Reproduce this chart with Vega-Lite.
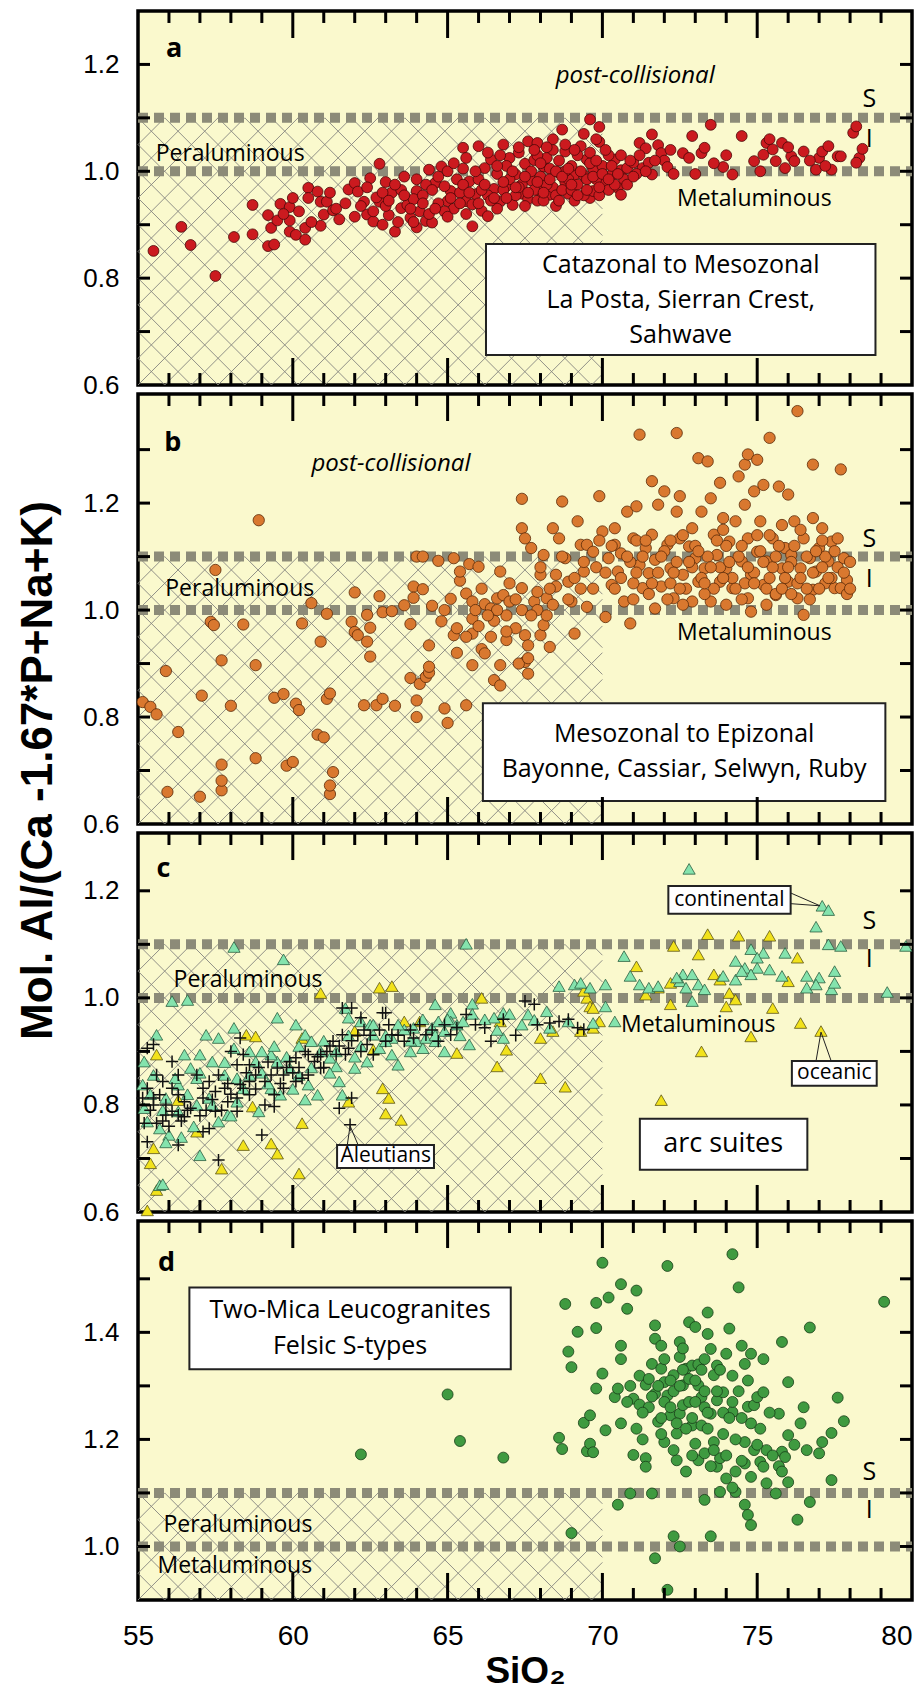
{
"$schema":"https://vega.github.io/schema/vega-lite/v6.json",
"padding":{"left":14,"top":7,"right":0,"bottom":0},
"background":"white",
"spacing":9,
"bounds":"flush",
"config":{
 "view":{"stroke":"black","strokeWidth":3.5,"fill":"#FAF9CD"},
 "axis":{"domain":false,"grid":false,"ticks":false,"labelFont":"Liberation Sans","labelFontSize":26,"labelColor":"black","labelOverlap":false,"labelFlush":false,"titleColor":"black"},
 "text":{"font":"Open Sans","color":"black"}
},
"datasets":{
"xtMinor":[{"v":56},{"v":57},{"v":58},{"v":59},{"v":61},{"v":62},{"v":63},{"v":64},{"v":66},{"v":67},{"v":68},{"v":69},{"v":71},{"v":72},{"v":73},{"v":74},{"v":76},{"v":77},{"v":78},{"v":79}],
"xtMajor":[{"v":60},{"v":65},{"v":70},{"v":75}],
"yt1":[{"v":0.7},{"v":0.8},{"v":0.9},{"v":1.0},{"v":1.1},{"v":1.2}],
"yt2":[{"v":0.7},{"v":0.8},{"v":0.9},{"v":1.0},{"v":1.1},{"v":1.2},{"v":1.3}],
"yt4":[{"v":1.0},{"v":1.1},{"v":1.2},{"v":1.3},{"v":1.4},{"v":1.5}],
"hatch1":[
{"x":55,"y":1.05,"x2":55.862,"y2":1.1},{"x":55,"y":1.0,"x2":56.724,"y2":1.1},{"x":55,"y":0.95,"x2":57.585,"y2":1.1},{"x":55,"y":0.9,"x2":58.447,"y2":1.1},{"x":55,"y":0.85,"x2":59.309,"y2":1.1},{"x":55,"y":0.8,"x2":60.171,"y2":1.1},{"x":55,"y":0.75,"x2":61.033,"y2":1.1},{"x":55,"y":0.7,"x2":61.894,"y2":1.1},{"x":55,"y":0.65,"x2":62.756,"y2":1.1},{"x":55,"y":0.6,"x2":63.618,"y2":1.1},{"x":55.862,"y":0.6,"x2":64.48,"y2":1.1},{"x":56.724,"y":0.6,"x2":65.342,"y2":1.1},{"x":57.585,"y":0.6,"x2":66.203,"y2":1.1},{"x":58.447,"y":0.6,"x2":67.065,"y2":1.1},{"x":59.309,"y":0.6,"x2":67.927,"y2":1.1},{"x":60.171,"y":0.6,"x2":68.789,"y2":1.1},{"x":61.033,"y":0.6,"x2":69.65,"y2":1.1},{"x":61.894,"y":0.6,"x2":70,"y2":1.0703},{"x":62.756,"y":0.6,"x2":70,"y2":1.0203},{"x":63.618,"y":0.6,"x2":70,"y2":0.9703},{"x":64.48,"y":0.6,"x2":70,"y2":0.9203},{"x":65.342,"y":0.6,"x2":70,"y2":0.8703},{"x":66.203,"y":0.6,"x2":70,"y2":0.8203},{"x":67.065,"y":0.6,"x2":70,"y2":0.7703},{"x":67.927,"y":0.6,"x2":70,"y2":0.7203},{"x":68.789,"y":0.6,"x2":70,"y2":0.6703},{"x":69.65,"y":0.6,"x2":70,"y2":0.6203},
{"x":55,"y":0.65,"x2":55.862,"y2":0.6},{"x":55,"y":0.7,"x2":56.724,"y2":0.6},{"x":55,"y":0.75,"x2":57.585,"y2":0.6},{"x":55,"y":0.8,"x2":58.447,"y2":0.6},{"x":55,"y":0.85,"x2":59.309,"y2":0.6},{"x":55,"y":0.9,"x2":60.171,"y2":0.6},{"x":55,"y":0.95,"x2":61.033,"y2":0.6},{"x":55,"y":1.0,"x2":61.894,"y2":0.6},{"x":55,"y":1.05,"x2":62.756,"y2":0.6},{"x":55,"y":1.1,"x2":63.618,"y2":0.6},{"x":55.862,"y":1.1,"x2":64.48,"y2":0.6},{"x":56.724,"y":1.1,"x2":65.342,"y2":0.6},{"x":57.585,"y":1.1,"x2":66.203,"y2":0.6},{"x":58.447,"y":1.1,"x2":67.065,"y2":0.6},{"x":59.309,"y":1.1,"x2":67.927,"y2":0.6},{"x":60.171,"y":1.1,"x2":68.789,"y2":0.6},{"x":61.033,"y":1.1,"x2":69.65,"y2":0.6},{"x":61.894,"y":1.1,"x2":70,"y2":0.6297},{"x":62.756,"y":1.1,"x2":70,"y2":0.6797},{"x":63.618,"y":1.1,"x2":70,"y2":0.7297},{"x":64.48,"y":1.1,"x2":70,"y2":0.7797},{"x":65.342,"y":1.1,"x2":70,"y2":0.8297},{"x":66.203,"y":1.1,"x2":70,"y2":0.8797},{"x":67.065,"y":1.1,"x2":70,"y2":0.9297},{"x":67.927,"y":1.1,"x2":70,"y2":0.9797},{"x":68.789,"y":1.1,"x2":70,"y2":1.0297},{"x":69.65,"y":1.1,"x2":70,"y2":1.0797}],
"hatch2":[
{"x":55,"y":1.05,"x2":55.862,"y2":1.1},{"x":55,"y":1.0,"x2":56.724,"y2":1.1},{"x":55,"y":0.95,"x2":57.585,"y2":1.1},{"x":55,"y":0.9,"x2":58.447,"y2":1.1},{"x":55.862,"y":0.9,"x2":59.309,"y2":1.1},{"x":56.724,"y":0.9,"x2":60.171,"y2":1.1},{"x":57.585,"y":0.9,"x2":61.033,"y2":1.1},{"x":58.447,"y":0.9,"x2":61.894,"y2":1.1},{"x":59.309,"y":0.9,"x2":62.756,"y2":1.1},{"x":60.171,"y":0.9,"x2":63.618,"y2":1.1},{"x":61.033,"y":0.9,"x2":64.48,"y2":1.1},{"x":61.894,"y":0.9,"x2":65.342,"y2":1.1},{"x":62.756,"y":0.9,"x2":66.203,"y2":1.1},{"x":63.618,"y":0.9,"x2":67.065,"y2":1.1},{"x":64.48,"y":0.9,"x2":67.927,"y2":1.1},{"x":65.342,"y":0.9,"x2":68.789,"y2":1.1},{"x":66.203,"y":0.9,"x2":69.65,"y2":1.1},{"x":67.065,"y":0.9,"x2":70,"y2":1.0703},{"x":67.927,"y":0.9,"x2":70,"y2":1.0203},{"x":68.789,"y":0.9,"x2":70,"y2":0.9703},{"x":69.65,"y":0.9,"x2":70,"y2":0.9203},
{"x":55,"y":0.95,"x2":55.862,"y2":0.9},{"x":55,"y":1.0,"x2":56.724,"y2":0.9},{"x":55,"y":1.05,"x2":57.585,"y2":0.9},{"x":55,"y":1.1,"x2":58.447,"y2":0.9},{"x":55.862,"y":1.1,"x2":59.309,"y2":0.9},{"x":56.724,"y":1.1,"x2":60.171,"y2":0.9},{"x":57.585,"y":1.1,"x2":61.033,"y2":0.9},{"x":58.447,"y":1.1,"x2":61.894,"y2":0.9},{"x":59.309,"y":1.1,"x2":62.756,"y2":0.9},{"x":60.171,"y":1.1,"x2":63.618,"y2":0.9},{"x":61.033,"y":1.1,"x2":64.48,"y2":0.9},{"x":61.894,"y":1.1,"x2":65.342,"y2":0.9},{"x":62.756,"y":1.1,"x2":66.203,"y2":0.9},{"x":63.618,"y":1.1,"x2":67.065,"y2":0.9},{"x":64.48,"y":1.1,"x2":67.927,"y2":0.9},{"x":65.342,"y":1.1,"x2":68.789,"y2":0.9},{"x":66.203,"y":1.1,"x2":69.65,"y2":0.9},{"x":67.065,"y":1.1,"x2":70,"y2":0.9297},{"x":67.927,"y":1.1,"x2":70,"y2":0.9797},{"x":68.789,"y":1.1,"x2":70,"y2":1.0297},{"x":69.65,"y":1.1,"x2":70,"y2":1.0797}],
"ptsA":[
{"x":55.5,"y":0.851},{"x":56.4,"y":0.896},{"x":56.7,"y":0.862},{"x":57.5,"y":0.804},{"x":58.1,"y":0.877},{"x":58.7,"y":0.937},{"x":58.7,"y":0.882},{"x":59.2,"y":0.918},{"x":59.3,"y":0.894},{"x":59.2,"y":0.86},{"x":59.4,"y":0.863},{"x":59.5,"y":0.908},{"x":59.6,"y":0.939},{"x":59.9,"y":0.908},{"x":59.9,"y":0.933},{"x":59.9,"y":0.887},{"x":60.1,"y":0.881},{"x":60.4,"y":0.872},{"x":60.4,"y":0.894},{"x":60.5,"y":0.969},{"x":60.5,"y":0.95},{"x":60.8,"y":0.962},{"x":60.9,"y":0.943},{"x":61.0,"y":0.919},{"x":60.9,"y":0.898},{"x":61.1,"y":0.943},{"x":61.3,"y":0.927},{"x":61.4,"y":0.93},
{"x":61.8,"y":0.966},{"x":62.0,"y":0.978},{"x":62.3,"y":0.943},{"x":62.4,"y":0.919},{"x":62.5,"y":0.987},{"x":62.6,"y":0.906},{"x":62.8,"y":1.014},{"x":62.8,"y":0.943},{"x":63.0,"y":0.98},{"x":63.1,"y":0.918},{"x":63.3,"y":0.887},{"x":63.5,"y":0.931},{"x":63.6,"y":0.99},{"x":63.7,"y":0.937},{"x":63.8,"y":0.913},{"x":64.0,"y":0.963},{"x":64.1,"y":0.925},{"x":64.3,"y":0.907},{"x":64.5,"y":0.904},{"x":64.4,"y":1.003},{"x":64.6,"y":0.978},{"x":64.8,"y":1.009},{"x":65.0,"y":0.944},{"x":65.1,"y":0.963},{"x":65.5,"y":1.044},{"x":65.6,"y":1.025},{"x":65.6,"y":0.944},{"x":65.7,"y":0.981},{"x":65.8,"y":0.897},{"x":65.9,"y":0.957},{"x":66.0,"y":1.047},{"x":66.1,"y":0.926},{"x":66.2,"y":1.006},{"x":66.3,"y":0.916},{"x":66.4,"y":1.022},{"x":66.5,"y":0.967},{"x":66.6,"y":0.995},{"x":66.7,"y":0.944},{"x":66.8,"y":1.05},{"x":66.9,"y":0.972},{"x":67.0,"y":1.025},{"x":67.1,"y":0.937},{"x":67.2,"y":0.994},{"x":67.3,"y":1.035},{"x":67.4,"y":0.958},{"x":67.5,"y":1.014},{"x":67.6,"y":1.056},{"x":67.6,"y":0.948},{"x":67.7,"y":0.983},{"x":67.8,"y":1.021},{"x":67.9,"y":1.053},{"x":67.9,"y":0.945},{"x":68.0,"y":0.963},{"x":68.1,"y":1.009},{"x":68.2,"y":1.025},{"x":68.3,"y":0.956},{"x":68.4,"y":1.04},{"x":68.5,"y":0.935},{"x":68.6,"y":0.997},{"x":68.7,"y":1.078},{"x":68.8,"y":1.037},{"x":68.8,"y":0.98},{"x":68.9,"y":0.958},{"x":69.1,"y":0.993},{"x":69.3,"y":1.047},{"x":69.4,"y":0.992},{"x":69.5,"y":1.022},{"x":69.6,"y":0.95},{"x":69.6,"y":1.097},{"x":69.7,"y":0.963},{"x":69.9,"y":1.083},{"x":69.9,"y":1.055},{"x":70.0,"y":0.969},{"x":70.1,"y":0.981},{"x":70.3,"y":0.993},{"x":70.4,"y":1.022},{"x":70.5,"y":0.969},{"x":70.6,"y":0.956},{"x":70.6,"y":1.002},{"x":70.8,"y":1.006},{"x":71.0,"y":1.016},{"x":71.2,"y":1.053},{"x":71.3,"y":1.006},{"x":71.4,"y":1.043},{"x":71.5,"y":1.016},{"x":71.6,"y":1.069},{"x":71.6,"y":0.994},{"x":71.8,"y":1.049},{"x":71.9,"y":1.034},{"x":72.0,"y":1.02},{"x":72.1,"y":1.008},{"x":72.3,"y":0.995},{"x":72.6,"y":1.034},{"x":72.8,"y":1.025},{"x":72.9,"y":1.066},{"x":73.0,"y":0.995},{"x":73.2,"y":1.034},{"x":73.3,"y":1.044},{"x":73.5,"y":1.087},{"x":73.9,"y":1.008},{"x":74.2,"y":0.994},{"x":74.5,"y":1.066},{"x":74.9,"y":1.019},{"x":75.2,"y":1.031},{"x":75.3,"y":1.053},{"x":75.4,"y":1.06},{"x":75.5,"y":1.041},{"x":75.6,"y":1.019},{"x":75.8,"y":1.053},{"x":75.9,"y":1.006},{"x":76.1,"y":1.028},{"x":76.2,"y":1.019},{"x":76.5,"y":1.037},{"x":76.9,"y":1.003},{"x":77.0,"y":1.025},{"x":77.1,"y":1.037},{"x":77.3,"y":1.047},{"x":77.4,"y":1.003},{"x":77.6,"y":1.028},{"x":77.7,"y":1.028},{"x":78.1,"y":1.072},{"x":78.2,"y":1.084},{"x":78.3,"y":1.025},{"x":78.2,"y":1.016},{"x":78.4,"y":1.042},
{"x":62.1,"y":0.962},{"x":62.7,"y":0.951},{"x":63.2,"y":0.96},{"x":63.9,"y":0.948},{"x":64.2,"y":0.955},{"x":64.7,"y":0.94},{"x":64.9,"y":0.972},{"x":65.2,"y":0.93},{"x":65.3,"y":0.985},{"x":65.4,"y":0.96},{"x":65.8,"y":0.938},{"x":66.0,"y":0.985},{"x":66.3,"y":0.955},{"x":66.6,"y":0.93},{"x":66.8,"y":0.965},{"x":67.0,"y":0.985},{"x":67.2,"y":0.955},{"x":67.4,"y":0.975},{"x":67.5,"y":0.935},{"x":67.7,"y":1.0},{"x":67.8,"y":0.965},{"x":68.0,"y":0.99},{"x":68.1,"y":0.945},{"x":68.3,"y":1.005},{"x":68.4,"y":0.97},{"x":68.5,"y":0.955},{"x":68.6,"y":1.02},{"x":68.7,"y":0.965},{"x":68.9,"y":0.985},{"x":69.0,"y":1.01},{"x":69.0,"y":0.965},{"x":69.2,"y":0.975},{"x":69.2,"y":1.03},{"x":69.4,"y":0.955},{"x":69.5,"y":0.985},{"x":69.7,"y":1.005},{"x":69.8,"y":0.985},{"x":69.9,"y":0.955},{"x":70.0,"y":1.01},{"x":70.2,"y":0.965},{"x":70.2,"y":1.03},{"x":70.4,"y":0.975},{"x":66.4,"y":0.945},{"x":65.0,"y":1.0},{"x":64.3,"y":0.975},{"x":63.5,"y":0.965},{"x":63.0,"y":0.935},{"x":62.9,"y":0.9},{"x":64.0,"y":0.895},{"x":65.5,"y":1.005},{"x":66.9,"y":1.01},{"x":67.9,"y":1.03},{"x":68.2,"y":0.975},{"x":69.1,"y":0.945},{"x":66.1,"y":0.965},{"x":67.3,"y":0.97},{"x":68.8,"y":1.0},{"x":69.6,"y":1.015},{"x":70.7,"y":0.985},{"x":71.1,"y":0.995},
{"x":62.2,"y":0.935},{"x":62.4,"y":0.97},{"x":62.6,"y":0.925},{"x":62.9,"y":0.96},{"x":63.1,"y":0.945},{"x":63.3,"y":0.975},{"x":63.4,"y":0.905},{"x":63.6,"y":0.955},{"x":63.8,"y":0.93},{"x":64.0,"y":0.985},{"x":64.2,"y":0.94},{"x":64.4,"y":0.92},{"x":64.5,"y":0.965},{"x":64.7,"y":0.99},{"x":64.9,"y":0.925},{"x":65.1,"y":0.95},{"x":65.2,"y":1.015},{"x":65.4,"y":0.94},{"x":65.5,"y":0.975},{"x":65.7,"y":0.96},{"x":65.9,"y":1.0},{"x":66.0,"y":0.94},{"x":66.2,"y":0.975},{"x":66.3,"y":1.035},{"x":66.5,"y":0.95},{"x":66.6,"y":1.01},{"x":66.8,"y":0.98},{"x":66.9,"y":0.95},{"x":67.1,"y":1.0},{"x":67.2,"y":0.97},{"x":67.3,"y":1.045},{"x":67.5,"y":0.99},{"x":67.6,"y":0.96},{"x":67.8,"y":1.04},{"x":67.9,"y":0.98},{"x":68.0,"y":1.015},{"x":68.1,"y":0.96},{"x":68.3,"y":0.985},{"x":68.4,"y":1.06},{"x":68.5,"y":1.0},{"x":68.6,"y":0.945},{"x":68.7,"y":0.99},{"x":68.8,"y":1.05},{"x":68.9,"y":1.005},{"x":69.0,"y":0.975},{"x":69.1,"y":1.04},{"x":69.2,"y":0.955},{"x":69.3,"y":1.0},{"x":69.4,"y":1.07},{"x":69.5,"y":0.965},{"x":69.6,"y":1.035},{"x":69.7,"y":0.99},{"x":69.8,"y":1.02},{"x":69.9,"y":0.97},{"x":70.0,"y":0.995},{"x":70.1,"y":1.04},{"x":70.2,"y":0.985},{"x":70.3,"y":1.01},{"x":70.5,"y":0.995},{"x":70.6,"y":1.03},{"x":70.8,"y":0.975},{"x":70.9,"y":1.02},{"x":71.0,"y":0.99},{"x":71.2,"y":1.03},{"x":71.4,"y":1.0},{"x":71.7,"y":1.02},{"x":60.2,"y":0.925},{"x":60.6,"y":0.905},{"x":61.2,"y":0.96},{"x":61.5,"y":0.91},{"x":61.7,"y":0.94},{"x":62.0,"y":0.915},{"x":59.7,"y":0.92},{"x":60.0,"y":0.95},{"x":63.9,"y":0.905},{"x":64.6,"y":0.93},{"x":65.0,"y":0.915},{"x":65.6,"y":0.92},{"x":66.7,"y":1.03},{"x":68.2,"y":1.045},{"x":69.8,"y":1.06},{"x":72.2,"y":1.04},{"x":73.6,"y":1.015},{"x":74.0,"y":1.03},{"x":76.0,"y":1.045},{"x":76.7,"y":1.02},{"x":77.2,"y":1.01},{"x":75.1,"y":1.0}],
"ptsB":[
{"x":55.15,"y":0.828},{"x":55.4,"y":0.819},{"x":55.6,"y":0.805},{"x":55.9,"y":0.886},{"x":55.95,"y":0.66},{"x":56.3,"y":0.772},{"x":57.0,"y":0.651},{"x":57.06,"y":0.84},{"x":57.35,"y":0.978},{"x":57.45,"y":0.972},{"x":57.5,"y":1.075},{"x":57.7,"y":0.906},{"x":57.7,"y":0.663},{"x":57.7,"y":0.681},{"x":57.7,"y":0.711},{"x":58.0,"y":0.821},{"x":58.4,"y":0.973},{"x":58.8,"y":0.723},{"x":58.8,"y":0.897},{"x":58.9,"y":1.168},{"x":59.4,"y":0.836},{"x":59.7,"y":0.843},{"x":59.8,"y":0.709},{"x":60.0,"y":0.716},{"x":60.1,"y":0.825},{"x":60.2,"y":0.813},{"x":60.3,"y":0.975},{"x":60.6,"y":1.013},{"x":60.8,"y":0.767},{"x":61.0,"y":0.762},{"x":60.9,"y":0.941},{"x":61.1,"y":0.993},{"x":61.1,"y":0.834},{"x":61.2,"y":0.844},{"x":61.2,"y":0.656},{"x":61.2,"y":0.672},{"x":61.3,"y":0.697},{"x":61.9,"y":0.978},{"x":62.0,"y":0.959},{"x":62.0,"y":1.033},{"x":62.1,"y":0.953},{"x":62.3,"y":0.822},{"x":62.4,"y":0.941},{"x":62.4,"y":0.991},{"x":62.5,"y":0.967},{"x":62.5,"y":0.913},{"x":62.7,"y":0.822},{"x":62.8,"y":1.026},{"x":62.9,"y":0.996},{"x":62.9,"y":0.834},{"x":63.2,"y":0.998},{"x":63.3,"y":0.821},{"x":63.6,"y":1.009},{"x":63.8,"y":0.974},{"x":63.8,"y":0.873},{"x":63.9,"y":1.044},{"x":63.9,"y":1.023},{"x":64.0,"y":0.831},{"x":64.0,"y":0.8},{"x":64.1,"y":0.862},{"x":64.0,"y":1.1},{"x":64.2,"y":1.039},{"x":64.2,"y":1.1},{"x":64.3,"y":0.875},{"x":64.4,"y":0.883},{"x":64.4,"y":0.894},{"x":64.4,"y":0.934},{"x":64.5,"y":1.008},{"x":64.7,"y":1.092},{"x":64.8,"y":0.979},{"x":64.9,"y":1.0},{"x":64.9,"y":0.816},{"x":65.0,"y":0.789},{"x":65.1,"y":1.021},{"x":65.2,"y":1.097},{"x":65.2,"y":0.953},{"x":65.3,"y":0.966},{"x":65.4,"y":1.055},{"x":65.4,"y":1.072},{"x":65.6,"y":1.031},{"x":65.6,"y":0.822},{"x":65.7,"y":1.086},{"x":65.8,"y":1.016},{"x":65.8,"y":0.984},{"x":65.8,"y":0.956},{"x":65.8,"y":0.897},{"x":66.0,"y":1.081},{"x":66.1,"y":0.927},{"x":66.2,"y":0.919},{"x":66.2,"y":1.011},{"x":66.4,"y":1.003},{"x":66.5,"y":0.869},{"x":66.6,"y":1.022},{"x":66.7,"y":0.897},{"x":66.7,"y":0.859},{"x":66.7,"y":1.072},{"x":66.8,"y":1.028},{"x":66.9,"y":0.944},{"x":67.0,"y":1.016},{"x":67.2,"y":0.966},{"x":67.4,"y":1.208},{"x":67.4,"y":1.041},{"x":67.4,"y":1.153},{"x":67.5,"y":1.134},{"x":67.5,"y":0.953},{"x":67.5,"y":0.903},{"x":67.6,"y":0.881},{"x":67.6,"y":0.934},{"x":67.7,"y":1.116},{"x":67.8,"y":1.016},{"x":67.9,"y":1.034},{"x":68.0,"y":0.953},{"x":68.0,"y":1.066},{"x":68.1,"y":1.103},{"x":68.1,"y":0.972},{"x":68.2,"y":1.022},{"x":68.3,"y":0.931},{"x":68.4,"y":1.153},{"x":68.5,"y":1.044},{"x":68.5,"y":1.066},{"x":68.6,"y":1.134},{"x":68.7,"y":1.203},{"x":68.8,"y":1.097},{"x":68.9,"y":1.053},{"x":69.0,"y":1.016},{"x":69.1,"y":0.956},{"x":69.2,"y":1.166},{"x":69.3,"y":1.122},{"x":69.4,"y":1.072},{"x":69.5,"y":1.006},{"x":69.5,"y":1.122},{"x":69.7,"y":1.109},{"x":69.9,"y":1.213},{"x":70.0,"y":1.147},{"x":70.1,"y":0.987},{"x":70.2,"y":1.097},{"x":70.3,"y":1.047},{"x":70.4,"y":1.153},{"x":70.4,"y":1.122},{"x":70.5,"y":1.072},{"x":70.6,"y":1.106},{"x":70.7,"y":1.016},{"x":70.8,"y":1.184},{"x":70.9,"y":0.975},{"x":71.0,"y":1.134},{"x":71.1,"y":1.194},{"x":71.2,"y":1.084},{"x":71.2,"y":1.328},{"x":71.3,"y":1.041},{"x":71.4,"y":1.116},{"x":71.5,"y":1.069},{"x":71.6,"y":1.241},{"x":71.6,"y":1.141},{"x":71.7,"y":1.003},{"x":71.7,"y":1.094},{"x":71.8,"y":1.197},{"x":71.9,"y":1.044},{"x":72.0,"y":1.222},{"x":72.1,"y":1.122},{"x":72.2,"y":1.078},{"x":72.3,"y":1.022},{"x":72.4,"y":1.184},{"x":72.4,"y":1.331},{"x":72.5,"y":1.134},{"x":72.5,"y":1.213},{"x":72.6,"y":1.066},{"x":72.8,"y":1.119},{"x":72.9,"y":1.016},{"x":72.9,"y":1.153},{"x":73.0,"y":1.097},{"x":73.1,"y":1.053},{"x":73.1,"y":1.284},{"x":73.2,"y":1.184},{"x":73.3,"y":1.078},{"x":73.4,"y":1.278},{"x":73.5,"y":1.209},{"x":73.5,"y":1.016},{"x":73.6,"y":1.141},{"x":73.7,"y":1.103},{"x":73.8,"y":1.238},{"x":73.8,"y":1.053},{"x":73.9,"y":1.172},{"x":74.0,"y":1.078},{"x":74.1,"y":1.128},{"x":74.2,"y":1.041},{"x":74.3,"y":1.166},{"x":74.4,"y":1.25},{"x":74.5,"y":1.091},{"x":74.6,"y":1.272},{"x":74.6,"y":1.197},{"x":74.7,"y":1.022},{"x":74.7,"y":1.291},{"x":74.7,"y":1.134},{"x":74.8,"y":0.997},{"x":74.8,"y":1.066},{"x":74.9,"y":1.222},{"x":75.0,"y":1.281},{"x":75.0,"y":1.109},{"x":75.1,"y":1.166},{"x":75.2,"y":1.234},{"x":75.2,"y":1.047},{"x":75.3,"y":1.091},{"x":75.4,"y":1.322},{"x":75.5,"y":1.134},{"x":75.6,"y":1.028},{"x":75.7,"y":1.231},{"x":75.8,"y":1.078},{"x":75.8,"y":1.159},{"x":75.9,"y":1.116},{"x":76.0,"y":1.216},{"x":76.0,"y":1.053},{"x":76.1,"y":1.103},{"x":76.2,"y":1.166},{"x":76.3,"y":1.022},{"x":76.4,"y":1.078},{"x":76.5,"y":1.134},{"x":76.5,"y":0.991},{"x":76.7,"y":1.097},{"x":76.8,"y":1.172},{"x":76.8,"y":1.272},{"x":76.8,"y":1.038},{"x":76.9,"y":1.072},{"x":77.0,"y":1.116},{"x":77.1,"y":1.153},{"x":77.2,"y":1.05},{"x":77.3,"y":1.091},{"x":77.4,"y":1.128},{"x":77.5,"y":1.041},{"x":77.6,"y":1.134},{"x":77.7,"y":1.263},{"x":77.8,"y":1.097},{"x":77.9,"y":1.056},{"x":77.7,"y":1.041},{"x":76.3,"y":1.372},
{"x":70.6,"y":1.06},{"x":70.9,"y":1.09},{"x":71.0,"y":1.05},{"x":71.3,"y":1.1},{"x":71.5,"y":1.03},{"x":71.8,"y":1.07},{"x":72.0,"y":1.11},{"x":72.2,"y":1.05},{"x":72.4,"y":1.09},{"x":72.7,"y":1.04},{"x":72.9,"y":1.08},{"x":73.0,"y":1.12},{"x":73.2,"y":1.06},{"x":73.4,"y":1.1},{"x":73.6,"y":1.04},{"x":73.8,"y":1.08},{"x":74.0,"y":1.12},{"x":74.2,"y":1.06},{"x":74.4,"y":1.1},{"x":74.6,"y":1.05},{"x":74.9,"y":1.07},{"x":75.1,"y":1.11},{"x":75.3,"y":1.04},{"x":75.5,"y":1.08},{"x":75.7,"y":1.12},{"x":75.9,"y":1.06},{"x":76.1,"y":1.09},{"x":76.3,"y":1.05},{"x":76.6,"y":1.1},{"x":76.8,"y":1.07},{"x":77.0,"y":1.04},{"x":77.2,"y":1.1},{"x":77.4,"y":1.06},{"x":77.6,"y":1.08},{"x":77.9,"y":1.03},{"x":72.1,"y":1.02},{"x":73.3,"y":1.03},{"x":74.5,"y":1.02},{"x":75.6,"y":1.03},{"x":76.7,"y":1.02},{"x":71.1,"y":1.13},{"x":72.6,"y":1.14},{"x":73.9,"y":1.15},{"x":75.4,"y":1.14},{"x":76.4,"y":1.15},{"x":77.1,"y":1.13},{"x":70.3,"y":1.12},{"x":69.8,"y":1.08},{"x":69.3,"y":1.04},{"x":68.9,"y":1.02},{"x":68.4,"y":1.01},{"x":67.9,"y":1.0},{"x":67.4,"y":1.0},{"x":66.9,"y":0.99},{"x":66.5,"y":0.98},{"x":66.0,"y":0.97},{"x":65.6,"y":0.95},{"x":65.3,"y":0.92},
{"x":70.4,"y":1.04},{"x":70.8,"y":1.1},{"x":71.1,"y":1.07},{"x":71.4,"y":1.13},{"x":71.6,"y":1.05},{"x":71.9,"y":1.1},{"x":72.2,"y":1.13},{"x":72.3,"y":1.07},{"x":72.5,"y":1.04},{"x":72.8,"y":1.09},{"x":73.1,"y":1.11},{"x":73.3,"y":1.05},{"x":73.5,"y":1.08},{"x":73.7,"y":1.13},{"x":73.9,"y":1.06},{"x":74.1,"y":1.09},{"x":74.3,"y":1.04},{"x":74.5,"y":1.12},{"x":74.7,"y":1.08},{"x":74.9,"y":1.05},{"x":75.0,"y":1.14},{"x":75.2,"y":1.09},{"x":75.4,"y":1.06},{"x":75.6,"y":1.1},{"x":75.8,"y":1.04},{"x":76.0,"y":1.08},{"x":76.2,"y":1.12},{"x":76.4,"y":1.06},{"x":76.6,"y":1.04},{"x":76.9,"y":1.11},{"x":77.1,"y":1.08},{"x":77.3,"y":1.06},{"x":77.5,"y":1.11},{"x":77.8,"y":1.07},{"x":78.0,"y":1.04},{"x":78.0,"y":1.09},{"x":71.0,"y":1.02},{"x":72.6,"y":1.01},{"x":74.0,"y":1.01},{"x":75.3,"y":1.01},{"x":76.1,"y":1.03},{"x":68.0,"y":1.08},{"x":68.3,"y":1.04},{"x":68.7,"y":1.1},{"x":69.1,"y":1.06},{"x":69.4,"y":1.09},{"x":69.7,"y":1.04},{"x":69.9,"y":1.13},{"x":70.1,"y":1.07},{"x":67.2,"y":1.02},{"x":67.0,"y":1.05},{"x":66.6,"y":1.0},{"x":66.3,"y":0.99},{"x":66.1,"y":1.04},{"x":65.9,"y":1.0},{"x":67.7,"y":0.99},{"x":68.2,"y":0.99},{"x":67.3,"y":0.9},{"x":67.6,"y":0.91},{"x":66.4,"y":0.95},{"x":66.9,"y":0.96}],
"cont":[
{"x":72.8,"y":1.241},{"x":77.1,"y":1.172},{"x":77.3,"y":1.164},{"x":76.9,"y":1.133},{"x":58.1,"y":1.095},{"x":65.6,"y":1.101},{"x":79.8,"y":1.097},{"x":77.3,"y":1.1},{"x":77.7,"y":1.097},{"x":59.7,"y":1.072},{"x":70.7,"y":1.078},{"x":70.9,"y":1.041},{"x":74.8,"y":1.091},{"x":74.3,"y":1.069},{"x":75.2,"y":1.084},{"x":75.0,"y":1.075},{"x":75.9,"y":1.084},{"x":74.6,"y":1.056},{"x":75.0,"y":1.056},{"x":75.4,"y":1.053},{"x":75.8,"y":1.041},{"x":74.8,"y":1.044},{"x":72.6,"y":1.044},{"x":72.5,"y":1.031},{"x":72.7,"y":1.019},{"x":72.9,"y":1.044},{"x":73.1,"y":1.025},{"x":73.3,"y":1.016},{"x":72.4,"y":1.038},{"x":73.9,"y":1.041},{"x":74.3,"y":1.034},{"x":74.5,"y":1.05},{"x":76.6,"y":1.041},{"x":77.0,"y":1.038},{"x":76.6,"y":1.019},{"x":77.4,"y":1.016},{"x":77.5,"y":1.05},{"x":77.5,"y":1.028},{"x":76.9,"y":1.025},{"x":79.2,"y":1.011},{"x":71.2,"y":1.025},{"x":71.5,"y":1.019},{"x":71.8,"y":1.022},{"x":72.9,"y":0.994},{"x":69.1,"y":1.025},{"x":69.3,"y":1.028},{"x":69.6,"y":1.019},{"x":70.1,"y":1.025},{"x":70.1,"y":0.984},{"x":68.6,"y":1.022},{"x":56.1,"y":0.994},{"x":56.6,"y":0.996},{"x":65.8,"y":0.989},{"x":64.6,"y":0.988},{"x":66.8,"y":0.972},{"x":66.8,"y":0.925},{"x":66.5,"y":0.963},{"x":67.6,"y":0.969},{"x":67.8,"y":0.959},{"x":68.2,"y":0.975},{"x":68.3,"y":0.944},{"x":68.9,"y":0.956},{"x":70.4,"y":0.956},{"x":69.7,"y":0.953},{"x":65.1,"y":0.972},{"x":65.3,"y":0.95},{"x":64.9,"y":0.938},{"x":64.5,"y":0.944},{"x":64.7,"y":0.956},{"x":63.9,"y":0.944},{"x":63.6,"y":0.941},{"x":63.2,"y":0.925},{"x":62.8,"y":0.906},{"x":62.4,"y":0.881},{"x":62.0,"y":0.869},{"x":61.7,"y":0.981},{"x":61.8,"y":0.963},{"x":62.2,"y":0.956},{"x":62.5,"y":0.95},{"x":62.6,"y":0.931},{"x":63.0,"y":0.919},{"x":63.2,"y":0.894},{"x":63.4,"y":0.875},{"x":63.8,"y":0.9},{"x":64.0,"y":0.919},{"x":64.2,"y":0.906},{"x":64.3,"y":0.925},{"x":64.6,"y":0.919},{"x":64.9,"y":0.9},{"x":65.1,"y":0.956},{"x":65.5,"y":0.956},{"x":65.7,"y":0.913},{"x":59.5,"y":0.963},{"x":60.1,"y":0.95},{"x":60.4,"y":0.931},{"x":60.6,"y":0.919},{"x":60.9,"y":0.9},{"x":61.2,"y":0.888},{"x":61.4,"y":0.872},{"x":61.5,"y":0.844},{"x":61.6,"y":0.819},{"x":60.8,"y":0.819},{"x":60.5,"y":0.838},{"x":60.2,"y":0.856},{"x":59.9,"y":0.869},{"x":59.5,"y":0.881},{"x":59.3,"y":0.894},{"x":59.0,"y":0.9},{"x":58.8,"y":0.881},{"x":58.6,"y":0.856},{"x":58.4,"y":0.831},{"x":58.2,"y":0.806},{"x":58.1,"y":0.944},{"x":58.1,"y":0.906},{"x":57.6,"y":0.925},{"x":57.2,"y":0.931},{"x":57.0,"y":0.894},{"x":56.7,"y":0.869},{"x":56.3,"y":0.838},{"x":55.9,"y":0.813},{"x":55.6,"y":0.931},{"x":55.5,"y":0.856},{"x":55.2,"y":0.881},{"x":55.15,"y":0.838},{"x":55.2,"y":0.794},{"x":55.3,"y":0.769},{"x":55.7,"y":0.756},{"x":56.0,"y":0.744},{"x":56.3,"y":0.788},{"x":56.9,"y":0.8},{"x":57.3,"y":0.813},{"x":57.6,"y":0.769},{"x":57.9,"y":0.781},{"x":58.9,"y":0.788},{"x":59.6,"y":0.819},{"x":59.3,"y":0.831},{"x":57.0,"y":0.706},{"x":55.7,"y":0.65},{"x":55.8,"y":0.652},{"x":56.9,"y":0.85},{"x":56.5,"y":0.894},{"x":57.4,"y":0.881},{"x":57.8,"y":0.856},
{"x":55.4,"y":0.82},{"x":55.8,"y":0.79},{"x":56.2,"y":0.85},{"x":56.6,"y":0.82},{"x":57.0,"y":0.86},{"x":57.4,"y":0.8},{"x":57.8,"y":0.88},{"x":58.2,"y":0.85},{"x":58.6,"y":0.9},{"x":59.0,"y":0.86},{"x":59.4,"y":0.91},{"x":59.8,"y":0.89},{"x":60.2,"y":0.91},{"x":60.6,"y":0.87},{"x":61.0,"y":0.92},{"x":61.4,"y":0.9},{"x":61.8,"y":0.93},{"x":62.2,"y":0.91},{"x":62.6,"y":0.95},{"x":63.0,"y":0.93},{"x":63.4,"y":0.95},{"x":63.8,"y":0.92},{"x":64.2,"y":0.96},{"x":64.6,"y":0.93},{"x":65.0,"y":0.96},{"x":65.4,"y":0.93},{"x":65.8,"y":0.97},{"x":66.2,"y":0.96},{"x":66.6,"y":0.94},{"x":67.0,"y":0.97},{"x":67.4,"y":0.95},{"x":59.2,"y":0.84},{"x":60.0,"y":0.83},{"x":60.4,"y":0.81},{"x":58.0,"y":0.78},{"x":56.8,"y":0.76},{"x":55.9,"y":0.73},{"x":56.4,"y":0.74},{"x":61.2,"y":0.86},{"x":62.0,"y":0.89}],
"ocean":[
{"x":55.3,"y":0.603},{"x":55.4,"y":0.691},{"x":55.5,"y":0.719},{"x":55.6,"y":0.641},{"x":55.6,"y":0.894},{"x":56.3,"y":0.809},{"x":56.9,"y":0.75},{"x":57.7,"y":0.681},{"x":58.4,"y":0.725},{"x":58.5,"y":0.931},{"x":58.8,"y":0.928},{"x":58.7,"y":0.797},{"x":59.3,"y":0.728},{"x":59.5,"y":0.709},{"x":60.2,"y":0.672},{"x":60.3,"y":0.766},{"x":60.3,"y":0.925},{"x":60.9,"y":1.009},{"x":61.8,"y":0.806},{"x":62.0,"y":0.938},{"x":62.6,"y":0.903},{"x":62.8,"y":1.019},{"x":63.2,"y":1.022},{"x":62.9,"y":0.831},{"x":63.1,"y":0.813},{"x":63.0,"y":0.784},{"x":63.5,"y":0.772},{"x":63.6,"y":0.956},{"x":64.1,"y":0.956},{"x":65.3,"y":0.897},{"x":66.1,"y":1.0},{"x":66.6,"y":0.872},{"x":66.7,"y":0.956},{"x":66.9,"y":0.903},{"x":68.0,"y":0.85},{"x":68.0,"y":0.925},{"x":68.4,"y":0.938},{"x":68.8,"y":0.834},{"x":69.3,"y":0.938},{"x":69.5,"y":1.0},{"x":69.4,"y":1.013},{"x":69.6,"y":0.984},{"x":69.7,"y":0.944},{"x":69.9,"y":0.956},{"x":69.7,"y":0.981},{"x":71.1,"y":1.059},{"x":71.4,"y":1.006},{"x":71.8,"y":1.019},{"x":72.2,"y":0.988},{"x":72.2,"y":1.028},{"x":72.3,"y":1.097},{"x":71.9,"y":0.809},{"x":73.1,"y":1.081},{"x":73.2,"y":0.9},{"x":73.4,"y":1.119},{"x":73.6,"y":1.044},{"x":73.8,"y":1.034},{"x":74.1,"y":1.009},{"x":74.0,"y":0.984},{"x":74.3,"y":0.997},{"x":74.4,"y":1.116},{"x":74.8,"y":0.928},{"x":75.4,"y":1.116},{"x":75.5,"y":0.981},{"x":76.3,"y":1.075},{"x":76.4,"y":0.953},{"x":77.06,"y":0.938},{"x":76.0,"y":1.031}],
"aleut":[
{"x":61.85,"y":0.763},{"x":61.6,"y":0.981},{"x":61.9,"y":0.981},{"x":63.0,"y":0.972},{"x":62.2,"y":0.963},{"x":62.9,"y":0.972},{"x":65.6,"y":0.969},{"x":66.2,"y":0.944},{"x":66.4,"y":0.919},{"x":67.5,"y":0.994},{"x":67.8,"y":0.988},{"x":67.9,"y":0.95},{"x":68.3,"y":0.953},{"x":68.6,"y":0.956},{"x":69.2,"y":0.944},{"x":69.4,"y":0.941},{"x":61.5,"y":0.794},{"x":61.9,"y":0.813},{"x":55.15,"y":0.813},{"x":55.5,"y":0.813},{"x":55.3,"y":0.906},{"x":55.5,"y":0.913},{"x":56.1,"y":0.881},{"x":55.6,"y":0.856},{"x":55.8,"y":0.844},{"x":55.3,"y":0.831},{"x":56.3,"y":0.819},{"x":55.9,"y":0.781},{"x":56.1,"y":0.788},{"x":56.3,"y":0.781},{"x":56.5,"y":0.778},{"x":55.2,"y":0.766},{"x":55.6,"y":0.766},{"x":55.3,"y":0.731},{"x":56.3,"y":0.725},{"x":56.7,"y":0.794},{"x":57.1,"y":0.813},{"x":57.3,"y":0.756},{"x":57.1,"y":0.75},{"x":57.6,"y":0.697},{"x":57.9,"y":0.806},{"x":58.2,"y":0.813},{"x":58.3,"y":0.838},{"x":58.4,"y":0.831},{"x":58.6,"y":0.844},{"x":59.0,"y":0.744},{"x":59.1,"y":0.844},{"x":59.3,"y":0.856},{"x":59.4,"y":0.797},{"x":59.5,"y":0.869},{"x":59.7,"y":0.856},{"x":59.9,"y":0.881},{"x":60.1,"y":0.888},{"x":60.3,"y":0.85},{"x":60.5,"y":0.856},{"x":60.7,"y":0.881},{"x":60.9,"y":0.894},{"x":61.1,"y":0.9},{"x":61.3,"y":0.919},{"x":61.4,"y":0.894},{"x":61.6,"y":0.931},{"x":61.7,"y":0.894},{"x":61.8,"y":0.906},{"x":58.2,"y":0.875},{"x":58.4,"y":0.894},{"x":58.6,"y":0.875},{"x":58.8,"y":0.856},{"x":57.6,"y":0.856},{"x":58.0,"y":0.9},{"x":58.3,"y":0.925},{"x":57.3,"y":0.844},{"x":56.9,"y":0.856},{"x":57.1,"y":0.831},{"x":57.5,"y":0.825},{"x":57.8,"y":0.831},{"x":55.5,"y":0.8},{"x":55.7,"y":0.819},{"x":56.1,"y":0.831},{"x":56.5,"y":0.806},{"x":56.3,"y":0.856},{"x":60.1,"y":0.844},{"x":60.5,"y":0.894},{"x":60.9,"y":0.869},{"x":62.2,"y":0.9},{"x":62.4,"y":0.913},{"x":62.6,"y":0.894},{"x":63.0,"y":0.919},{"x":63.2,"y":0.931},{"x":63.6,"y":0.919},{"x":63.9,"y":0.925},{"x":64.3,"y":0.931},{"x":64.7,"y":0.919},{"x":65.1,"y":0.931},{"x":65.3,"y":0.944},{"x":65.9,"y":0.95},{"x":59.7,"y":0.831},{"x":59.4,"y":0.819},{"x":59.1,"y":0.8},{"x":58.6,"y":0.819},{"x":58.2,"y":0.788},{"x":57.5,"y":0.788},
{"x":55.9,"y":0.8},{"x":56.6,"y":0.79},{"x":57.0,"y":0.78},{"x":57.4,"y":0.81},{"x":57.7,"y":0.79},{"x":58.0,"y":0.82},{"x":58.5,"y":0.86},{"x":58.9,"y":0.87},{"x":59.2,"y":0.88},{"x":59.6,"y":0.84},{"x":59.8,"y":0.87},{"x":60.2,"y":0.87},{"x":60.4,"y":0.9},{"x":60.8,"y":0.89},{"x":61.2,"y":0.91},{"x":61.5,"y":0.91},{"x":61.9,"y":0.92},{"x":62.1,"y":0.93},{"x":62.3,"y":0.94},{"x":62.5,"y":0.93},{"x":62.8,"y":0.94},{"x":63.1,"y":0.95},{"x":63.4,"y":0.93},{"x":63.8,"y":0.94},{"x":64.1,"y":0.95},{"x":64.5,"y":0.94},{"x":64.9,"y":0.95},{"x":55.4,"y":0.79},{"x":55.8,"y":0.77},{"x":56.0,"y":0.76},{"x":56.4,"y":0.77},{"x":57.2,"y":0.79},{"x":57.9,"y":0.84},{"x":58.8,"y":0.83},{"x":60.0,"y":0.86},{"x":61.0,"y":0.87},{"x":66.8,"y":0.96},{"x":67.2,"y":0.93},{"x":68.9,"y":0.96}],
"ptsD":[
{"x":62.2,"y":1.172},{"x":65.0,"y":1.284},{"x":65.4,"y":1.197},{"x":66.8,"y":1.166},{"x":68.6,"y":1.203},{"x":68.7,"y":1.182},{"x":68.8,"y":1.453},{"x":68.9,"y":1.364},{"x":69.0,"y":1.335},{"x":69.0,"y":1.025},{"x":69.2,"y":1.401},{"x":69.4,"y":1.231},{"x":69.5,"y":1.178},{"x":69.6,"y":1.245},{"x":69.6,"y":1.192},{"x":69.7,"y":1.176},{"x":69.8,"y":1.408},{"x":69.8,"y":1.455},{"x":69.8,"y":1.295},{"x":70.0,"y":1.323},{"x":70.0,"y":1.53},{"x":70.1,"y":1.217},{"x":70.2,"y":1.465},{"x":70.4,"y":1.279},{"x":70.5,"y":1.295},{"x":70.5,"y":1.078},{"x":70.6,"y":1.23},{"x":70.6,"y":1.375},{"x":70.6,"y":1.35},{"x":70.6,"y":1.49},{"x":70.8,"y":1.444},{"x":70.9,"y":1.3},{"x":70.9,"y":1.099},{"x":71.0,"y":1.171},{"x":71.0,"y":1.276},{"x":71.1,"y":1.478},{"x":71.2,"y":1.319},{"x":71.2,"y":1.265},{"x":71.3,"y":1.2},{"x":71.4,"y":1.165},{"x":71.4,"y":1.149},{"x":71.4,"y":1.302},{"x":71.5,"y":1.313},{"x":71.6,"y":1.099},{"x":71.6,"y":1.341},{"x":71.7,"y":1.413},{"x":71.7,"y":1.388},{"x":71.7,"y":1.285},{"x":71.7,"y":0.978},{"x":71.8,"y":1.233},{"x":71.9,"y":1.375},{"x":71.9,"y":1.332},{"x":72.0,"y":1.307},{"x":72.0,"y":1.195},{"x":72.1,"y":1.524},{"x":72.1,"y":1.282},{"x":72.1,"y":0.919},{"x":72.2,"y":1.245},{"x":72.3,"y":1.32},{"x":72.3,"y":1.019},{"x":72.4,"y":1.211},{"x":72.4,"y":1.161},{"x":72.5,"y":1.354},{"x":72.5,"y":1.248},{"x":72.5,"y":1.0},{"x":72.5,"y":1.382},{"x":72.6,"y":1.301},{"x":72.6,"y":1.264},{"x":72.7,"y":1.332},{"x":72.7,"y":1.14},{"x":72.8,"y":1.419},{"x":72.8,"y":1.313},{"x":72.9,"y":1.226},{"x":72.9,"y":1.338},{"x":73.0,"y":1.41},{"x":73.0,"y":1.192},{"x":73.1,"y":1.301},{"x":73.1,"y":1.161},{"x":73.2,"y":1.226},{"x":73.2,"y":1.279},{"x":73.3,"y":1.174},{"x":73.3,"y":1.26},{"x":73.3,"y":1.087},{"x":73.4,"y":1.397},{"x":73.4,"y":1.437},{"x":73.5,"y":1.019},{"x":73.5,"y":1.248},{"x":73.5,"y":1.369},{"x":73.6,"y":1.195},{"x":73.7,"y":1.338},{"x":73.7,"y":1.149},{"x":73.7,"y":1.273},{"x":73.8,"y":1.165},{"x":73.8,"y":1.102},{"x":73.9,"y":1.288},{"x":74.0,"y":1.127},{"x":74.0,"y":1.36},{"x":74.1,"y":1.407},{"x":74.2,"y":1.251},{"x":74.2,"y":1.319},{"x":74.3,"y":1.14},{"x":74.3,"y":1.102},{"x":74.2,"y":1.546},{"x":74.4,"y":1.484},{"x":74.5,"y":1.375},{"x":74.6,"y":1.341},{"x":74.6,"y":1.195},{"x":74.6,"y":1.155},{"x":74.6,"y":1.078},{"x":74.7,"y":1.059},{"x":74.7,"y":1.261},{"x":74.8,"y":1.36},{"x":74.8,"y":1.23},{"x":74.8,"y":1.04},{"x":74.9,"y":1.264},{"x":75.0,"y":1.279},{"x":75.1,"y":1.158},{"x":75.2,"y":1.149},{"x":75.2,"y":1.288},{"x":75.2,"y":1.35},{"x":75.3,"y":1.18},{"x":75.3,"y":1.118},{"x":75.6,"y":1.099},{"x":75.7,"y":1.248},{"x":75.8,"y":1.177},{"x":75.8,"y":1.382},{"x":75.9,"y":1.167},{"x":76.0,"y":1.307},{"x":76.0,"y":1.208},{"x":76.0,"y":1.12},{"x":76.3,"y":1.05},{"x":76.4,"y":1.23},{"x":76.6,"y":1.18},{"x":76.7,"y":1.409},{"x":76.7,"y":1.083},{"x":77.0,"y":1.174},{"x":77.1,"y":1.195},{"x":77.4,"y":1.212},{"x":77.4,"y":1.124},{"x":77.6,"y":1.278},{"x":77.8,"y":1.234},{"x":79.1,"y":1.457},
{"x":71.5,"y":1.26},{"x":71.8,"y":1.3},{"x":72.0,"y":1.27},{"x":72.3,"y":1.29},{"x":72.6,"y":1.33},{"x":72.8,"y":1.27},{"x":73.0,"y":1.31},{"x":73.3,"y":1.29},{"x":73.6,"y":1.32},{"x":73.9,"y":1.25},{"x":74.2,"y":1.27},{"x":74.5,"y":1.24},{"x":72.4,"y":1.23},{"x":72.9,"y":1.24},{"x":73.4,"y":1.22},{"x":71.9,"y":1.24},{"x":72.2,"y":1.31},{"x":73.1,"y":1.34},{"x":73.8,"y":1.33},{"x":74.4,"y":1.29},{"x":75.1,"y":1.22},{"x":75.5,"y":1.17},{"x":74.9,"y":1.18},{"x":74.0,"y":1.17},{"x":73.5,"y":1.15},{"x":72.9,"y":1.17},
{"x":71.3,"y":1.25},{"x":71.6,"y":1.28},{"x":71.9,"y":1.21},{"x":72.2,"y":1.26},{"x":72.5,"y":1.3},{"x":72.7,"y":1.22},{"x":73.0,"y":1.27},{"x":73.2,"y":1.33},{"x":73.4,"y":1.25},{"x":73.7,"y":1.29},{"x":73.9,"y":1.21},{"x":74.1,"y":1.24},{"x":74.3,"y":1.2},{"x":74.5,"y":1.16},{"x":74.8,"y":1.13},{"x":75.0,"y":1.19},{"x":75.4,"y":1.25},{"x":75.7,"y":1.15},{"x":76.2,"y":1.19},{"x":76.5,"y":1.26},{"x":72.0,"y":1.35},{"x":72.6,"y":1.37},{"x":73.3,"y":1.35},{"x":74.7,"y":1.31},{"x":71.1,"y":1.22},{"x":70.8,"y":1.27},{"x":73.6,"y":1.18},{"x":72.3,"y":1.18},{"x":74.2,"y":1.11},{"x":75.8,"y":1.14}]
},
"vconcat":[
{"width":774,"height":374,
 "layer":[
  {"data":{"name":"hatch1"},"mark":{"type":"rule","color":"#85857f","strokeWidth":1,"opacity":0.9},
   "encoding":{
    "x":{"field":"x","type":"quantitative","scale":{"domain":[55,80],"nice":false,"zero":false},"axis":null},
    "x2":{"field":"x2"},
    "y":{"field":"y","type":"quantitative","scale":{"domain":[0.6,1.3],"nice":false,"zero":false},"axis":{"orient":"left","values":[0.6,0.8,1.0,1.2],"labelPadding":19,"format":".1f","title":null}},
    "y2":{"field":"y2"}}},
  {"data":{"values":[{"v":1.0},{"v":1.1}]},"mark":{"type":"rule","color":"#8c8b78","strokeWidth":10,"strokeDash":[10,6]},
   "encoding":{"y":{"field":"v","type":"quantitative"},"x":{"datum":55,"type":"quantitative","axis":null},"x2":{"datum":80}}},
  {"data":{"values":[{"x":55.57,"y":1.032,"t":"Peraluminous"},{"x":72.41,"y":0.948,"t":"Metaluminous"}]},"mark":{"type":"text","align":"left","baseline":"middle","fontSize":23},
   "encoding":{"x":{"field":"x","type":"quantitative","axis":null},"y":{"field":"y","type":"quantitative"},"text":{"field":"t"}}},
  {"data":{"values":[{"x":68.49,"y":1.178,"t":"post-collisional"}]},"mark":{"type":"text","align":"left","baseline":"middle","fontSize":24,"fontStyle":"italic"},
   "encoding":{"x":{"field":"x","type":"quantitative","axis":null},"y":{"field":"y","type":"quantitative"},"text":{"field":"t"}}},
  {"data":{"values":[{"x":56.17,"y":1.229,"t":"a"}]},"mark":{"type":"text","align":"center","baseline":"middle","fontSize":27,"fontWeight":"bold"},
   "encoding":{"x":{"field":"x","type":"quantitative","axis":null},"y":{"field":"y","type":"quantitative"},"text":{"field":"t"}}},
  {"data":{"name":"ptsA"},"mark":{"type":"circle","size":118,"fill":"#CB1A1F","stroke":"#4a0808","strokeWidth":0.8,"opacity":1},
   "encoding":{"x":{"field":"x","type":"quantitative","axis":null},"y":{"field":"y","type":"quantitative"}}},
  {"data":{"values":[{"x":66.24,"x2":78.82,"y":0.656,"y2":0.864}]},"mark":{"type":"rect","fill":"white","stroke":"#222","strokeWidth":2},
   "encoding":{"x":{"field":"x","type":"quantitative","axis":null},"x2":{"field":"x2"},"y":{"field":"y","type":"quantitative"},"y2":{"field":"y2"}}},
  {"data":{"values":[{"x":72.53,"y":0.825,"t":"Catazonal to Mesozonal"},{"x":72.53,"y":0.759,"t":"La Posta, Sierran Crest,"},{"x":72.53,"y":0.694,"t":"Sahwave"},{"x":78.62,"y":1.135,"t":"S"},{"x":78.62,"y":1.06,"t":"I"}]},"mark":{"type":"text","align":"center","baseline":"middle","fontSize":25},
   "encoding":{"x":{"field":"x","type":"quantitative","axis":null},"y":{"field":"y","type":"quantitative"},"text":{"field":"t"}}},
  {"data":{"name":"xtMinor"},"mark":{"type":"rule","color":"black","strokeWidth":3},
   "encoding":{"x":{"field":"v","type":"quantitative","axis":null},"y":{"datum":1.3,"type":"quantitative"},"y2":{"datum":1.2776}}},
  {"data":{"name":"xtMajor"},"mark":{"type":"rule","color":"black","strokeWidth":3},
   "encoding":{"x":{"field":"v","type":"quantitative","axis":null},"y":{"datum":1.3,"type":"quantitative"},"y2":{"datum":1.2495}}},
  {"data":{"name":"xtMinor"},"mark":{"type":"rule","color":"black","strokeWidth":3},
   "encoding":{"x":{"field":"v","type":"quantitative","axis":null},"y":{"datum":0.6,"type":"quantitative"},"y2":{"datum":0.6224}}},
  {"data":{"name":"xtMajor"},"mark":{"type":"rule","color":"black","strokeWidth":3},
   "encoding":{"x":{"field":"v","type":"quantitative","axis":null},"y":{"datum":0.6,"type":"quantitative"},"y2":{"datum":0.6505}}},
  {"data":{"name":"yt1"},"mark":{"type":"rule","color":"black","strokeWidth":3},
   "encoding":{"y":{"field":"v","type":"quantitative"},"x":{"datum":55,"type":"quantitative","axis":null},"x2":{"datum":55.388}}},
  {"data":{"name":"yt1"},"mark":{"type":"rule","color":"black","strokeWidth":3},
   "encoding":{"y":{"field":"v","type":"quantitative"},"x":{"datum":79.612,"type":"quantitative","axis":null},"x2":{"datum":80}}}
 ]
},
{"width":774,"height":430,
 "layer":[
  {"data":{"name":"hatch1"},"mark":{"type":"rule","color":"#85857f","strokeWidth":1,"opacity":0.9},
   "encoding":{
    "x":{"field":"x","type":"quantitative","scale":{"domain":[55,80],"nice":false,"zero":false},"axis":null},
    "x2":{"field":"x2"},
    "y":{"field":"y","type":"quantitative","scale":{"domain":[0.6,1.404],"nice":false,"zero":false},"axis":{"orient":"left","values":[0.6,0.8,1.0,1.2],"labelPadding":19,"format":".1f","title":"Mol. Al/(Ca -1.67*P+Na+K)","titleFont":"Liberation Sans","titleFontWeight":"bold","titleFontSize":44,"titleX":-78,"titleY":376,"titleAngle":270,"titleBaseline":"bottom","titleAlign":"center"}},
    "y2":{"field":"y2"}}},
  {"data":{"values":[{"v":1.0},{"v":1.1}]},"mark":{"type":"rule","color":"#8c8b78","strokeWidth":10,"strokeDash":[10,6]},
   "encoding":{"y":{"field":"v","type":"quantitative"},"x":{"datum":55,"type":"quantitative","axis":null},"x2":{"datum":80}}},
  {"data":{"values":[{"x":55.88,"y":1.039,"t":"Peraluminous"},{"x":72.41,"y":0.957,"t":"Metaluminous"}]},"mark":{"type":"text","align":"left","baseline":"middle","fontSize":23},
   "encoding":{"x":{"field":"x","type":"quantitative","axis":null},"y":{"field":"y","type":"quantitative"},"text":{"field":"t"}}},
  {"data":{"values":[{"x":60.6,"y":1.273,"t":"post-collisional"}]},"mark":{"type":"text","align":"left","baseline":"middle","fontSize":24,"fontStyle":"italic"},
   "encoding":{"x":{"field":"x","type":"quantitative","axis":null},"y":{"field":"y","type":"quantitative"},"text":{"field":"t"}}},
  {"data":{"values":[{"x":56.12,"y":1.312,"t":"b"}]},"mark":{"type":"text","align":"center","baseline":"middle","fontSize":27,"fontWeight":"bold"},
   "encoding":{"x":{"field":"x","type":"quantitative","axis":null},"y":{"field":"y","type":"quantitative"},"text":{"field":"t"}}},
  {"data":{"name":"ptsB"},"mark":{"type":"circle","size":128,"fill":"#D9782F","stroke":"#5a2a08","strokeWidth":0.8,"opacity":1},
   "encoding":{"x":{"field":"x","type":"quantitative","axis":null},"y":{"field":"y","type":"quantitative"}}},
  {"data":{"values":[{"x":66.14,"x2":79.14,"y":0.643,"y2":0.826}]},"mark":{"type":"rect","fill":"white","stroke":"#222","strokeWidth":2},
   "encoding":{"x":{"field":"x","type":"quantitative","axis":null},"x2":{"field":"x2"},"y":{"field":"y","type":"quantitative"},"y2":{"field":"y2"}}},
  {"data":{"values":[{"x":72.64,"y":0.768,"t":"Mesozonal to Epizonal"},{"x":72.64,"y":0.703,"t":"Bayonne, Cassiar, Selwyn, Ruby"},{"x":78.62,"y":1.133,"t":"S"},{"x":78.62,"y":1.058,"t":"I"}]},"mark":{"type":"text","align":"center","baseline":"middle","fontSize":25},
   "encoding":{"x":{"field":"x","type":"quantitative","axis":null},"y":{"field":"y","type":"quantitative"},"text":{"field":"t"}}},
  {"data":{"name":"xtMinor"},"mark":{"type":"rule","color":"black","strokeWidth":3},
   "encoding":{"x":{"field":"v","type":"quantitative","axis":null},"y":{"datum":1.404,"type":"quantitative"},"y2":{"datum":1.3816}}},
  {"data":{"name":"xtMajor"},"mark":{"type":"rule","color":"black","strokeWidth":3},
   "encoding":{"x":{"field":"v","type":"quantitative","axis":null},"y":{"datum":1.404,"type":"quantitative"},"y2":{"datum":1.3535}}},
  {"data":{"name":"xtMinor"},"mark":{"type":"rule","color":"black","strokeWidth":3},
   "encoding":{"x":{"field":"v","type":"quantitative","axis":null},"y":{"datum":0.6,"type":"quantitative"},"y2":{"datum":0.6224}}},
  {"data":{"name":"xtMajor"},"mark":{"type":"rule","color":"black","strokeWidth":3},
   "encoding":{"x":{"field":"v","type":"quantitative","axis":null},"y":{"datum":0.6,"type":"quantitative"},"y2":{"datum":0.6505}}},
  {"data":{"name":"yt2"},"mark":{"type":"rule","color":"black","strokeWidth":3},
   "encoding":{"y":{"field":"v","type":"quantitative"},"x":{"datum":55,"type":"quantitative","axis":null},"x2":{"datum":55.388}}},
  {"data":{"name":"yt2"},"mark":{"type":"rule","color":"black","strokeWidth":3},
   "encoding":{"y":{"field":"v","type":"quantitative"},"x":{"datum":79.612,"type":"quantitative","axis":null},"x2":{"datum":80}}}
 ]
},
{"width":774,"height":379,
 "layer":[
  {"data":{"name":"hatch1"},"mark":{"type":"rule","color":"#85857f","strokeWidth":1,"opacity":0.9},
   "encoding":{
    "x":{"field":"x","type":"quantitative","scale":{"domain":[55,80],"nice":false,"zero":false},"axis":null},
    "x2":{"field":"x2"},
    "y":{"field":"y","type":"quantitative","scale":{"domain":[0.6,1.308],"nice":false,"zero":false},"axis":{"orient":"left","values":[0.6,0.8,1.0,1.2],"labelPadding":19,"format":".1f","title":null}},
    "y2":{"field":"y2"}}},
  {"data":{"values":[{"v":1.0},{"v":1.1}]},"mark":{"type":"rule","color":"#8c8b78","strokeWidth":10,"strokeDash":[10,6]},
   "encoding":{"y":{"field":"v","type":"quantitative"},"x":{"datum":55,"type":"quantitative","axis":null},"x2":{"datum":80}}},
  {"data":{"values":[{"x":56.15,"y":1.034,"t":"Peraluminous"},{"x":70.6,"y":0.95,"t":"Metaluminous"}]},"mark":{"type":"text","align":"left","baseline":"middle","fontSize":23},
   "encoding":{"x":{"field":"x","type":"quantitative","axis":null},"y":{"field":"y","type":"quantitative"},"text":{"field":"t"}}},
  {"data":{"values":[{"x":55.82,"y":1.241,"t":"c"}]},"mark":{"type":"text","align":"center","baseline":"middle","fontSize":27,"fontWeight":"bold"},
   "encoding":{"x":{"field":"x","type":"quantitative","axis":null},"y":{"field":"y","type":"quantitative"},"text":{"field":"t"}}},
  {"data":{"name":"ocean"},"mark":{"type":"point","shape":"triangle-up","filled":true,"size":150,"fill":"#F2E21B","stroke":"#5a5418","strokeWidth":0.8,"opacity":1},
   "encoding":{"x":{"field":"x","type":"quantitative","axis":null},"y":{"field":"y","type":"quantitative"}}},
  {"data":{"name":"cont"},"mark":{"type":"point","shape":"triangle-up","filled":true,"size":150,"fill":"#84E3AD","stroke":"#2b5e40","strokeWidth":0.8,"opacity":1},
   "encoding":{"x":{"field":"x","type":"quantitative","axis":null},"y":{"field":"y","type":"quantitative"}}},
  {"data":{"name":"aleut"},"mark":{"type":"point","shape":"M-1,0H1M0,-1V1","filled":false,"size":150,"stroke":"#111","strokeWidth":1.5,"opacity":1},
   "encoding":{"x":{"field":"x","type":"quantitative","axis":null},"y":{"field":"y","type":"quantitative"}}},
  {"data":{"values":[{"x":76.08,"y":1.196,"x2":77.03,"y2":1.172},{"x":76.08,"y":1.176,"x2":77.03,"y2":1.172},{"x":76.9,"y":0.882,"x2":77.06,"y2":0.936},{"x":77.39,"y":0.882,"x2":77.06,"y2":0.936},{"x":61.76,"y":0.725,"x2":61.85,"y2":0.761},{"x":62.11,"y":0.725,"x2":61.85,"y2":0.761}]},"mark":{"type":"rule","color":"#222","strokeWidth":1},
   "encoding":{"x":{"field":"x","type":"quantitative","axis":null},"x2":{"field":"x2"},"y":{"field":"y","type":"quantitative"},"y2":{"field":"y2"}}},
  {"data":{"values":[{"x":71.21,"x2":76.62,"y":0.679,"y2":0.774},{"x":72.13,"x2":76.08,"y":1.157,"y2":1.209},{"x":76.12,"x2":78.86,"y":0.836,"y2":0.882},{"x":61.43,"x2":64.56,"y":0.682,"y2":0.725}]},"mark":{"type":"rect","fill":"white","stroke":"#222","strokeWidth":2},
   "encoding":{"x":{"field":"x","type":"quantitative","axis":null},"x2":{"field":"x2"},"y":{"field":"y","type":"quantitative"},"y2":{"field":"y2"}}},
  {"data":{"values":[{"x":74.1,"y":1.183,"t":"continental"},{"x":77.49,"y":0.859,"t":"oceanic"},{"x":63.0,"y":0.704,"t":"Aleutians"}]},"mark":{"type":"text","align":"center","baseline":"middle","fontSize":21},
   "encoding":{"x":{"field":"x","type":"quantitative","axis":null},"y":{"field":"y","type":"quantitative"},"text":{"field":"t"}}},
  {"data":{"values":[{"x":73.9,"y":0.727,"t":"arc suites"}]},"mark":{"type":"text","align":"center","baseline":"middle","fontSize":27},
   "encoding":{"x":{"field":"x","type":"quantitative","axis":null},"y":{"field":"y","type":"quantitative"},"text":{"field":"t"}}},
  {"data":{"values":[{"x":78.62,"y":1.144,"t":"S"},{"x":78.62,"y":1.073,"t":"I"}]},"mark":{"type":"text","align":"center","baseline":"middle","fontSize":25},
   "encoding":{"x":{"field":"x","type":"quantitative","axis":null},"y":{"field":"y","type":"quantitative"},"text":{"field":"t"}}},
  {"data":{"name":"xtMinor"},"mark":{"type":"rule","color":"black","strokeWidth":3},
   "encoding":{"x":{"field":"v","type":"quantitative","axis":null},"y":{"datum":1.308,"type":"quantitative"},"y2":{"datum":1.2856}}},
  {"data":{"name":"xtMajor"},"mark":{"type":"rule","color":"black","strokeWidth":3},
   "encoding":{"x":{"field":"v","type":"quantitative","axis":null},"y":{"datum":1.308,"type":"quantitative"},"y2":{"datum":1.2575}}},
  {"data":{"name":"xtMinor"},"mark":{"type":"rule","color":"black","strokeWidth":3},
   "encoding":{"x":{"field":"v","type":"quantitative","axis":null},"y":{"datum":0.6,"type":"quantitative"},"y2":{"datum":0.6224}}},
  {"data":{"name":"xtMajor"},"mark":{"type":"rule","color":"black","strokeWidth":3},
   "encoding":{"x":{"field":"v","type":"quantitative","axis":null},"y":{"datum":0.6,"type":"quantitative"},"y2":{"datum":0.6505}}},
  {"data":{"name":"yt1"},"mark":{"type":"rule","color":"black","strokeWidth":3},
   "encoding":{"y":{"field":"v","type":"quantitative"},"x":{"datum":55,"type":"quantitative","axis":null},"x2":{"datum":55.388}}},
  {"data":{"name":"yt1"},"mark":{"type":"rule","color":"black","strokeWidth":3},
   "encoding":{"y":{"field":"v","type":"quantitative"},"x":{"datum":79.612,"type":"quantitative","axis":null},"x2":{"datum":80}}}
 ]
},
{"width":774,"height":379,
 "layer":[
  {"data":{"name":"hatch2"},"mark":{"type":"rule","color":"#85857f","strokeWidth":1,"opacity":0.9},
   "encoding":{
    "x":{"field":"x","type":"quantitative","scale":{"domain":[55,80],"nice":false,"zero":false},"axis":{"orient":"bottom","values":[55,60,65,70,75,80],"labelAlign":{"condition":{"test":"datum.value == 80","value":"right"},"value":"center"},"labelPadding":22,"labelFontSize":28,"title":"SiO₂","titleFont":"Liberation Sans","titleFontWeight":"bold","titleFontSize":37,"titleY":53,"titleBaseline":"top"}},
    "x2":{"field":"x2"},
    "y":{"field":"y","type":"quantitative","scale":{"domain":[0.9,1.608],"nice":false,"zero":false},"axis":{"orient":"left","values":[1.0,1.2,1.4],"labelPadding":19,"format":".1f","title":null}},
    "y2":{"field":"y2"}}},
  {"data":{"values":[{"v":1.0},{"v":1.1}]},"mark":{"type":"rule","color":"#8c8b78","strokeWidth":10,"strokeDash":[10,6]},
   "encoding":{"y":{"field":"v","type":"quantitative"},"x":{"datum":55,"type":"quantitative"},"x2":{"datum":80}}},
  {"data":{"values":[{"x":55.82,"y":1.041,"t":"Peraluminous"},{"x":55.63,"y":0.963,"t":"Metaluminous"}]},"mark":{"type":"text","align":"left","baseline":"middle","fontSize":23},
   "encoding":{"x":{"field":"x","type":"quantitative"},"y":{"field":"y","type":"quantitative"},"text":{"field":"t"}}},
  {"data":{"values":[{"x":55.92,"y":1.529,"t":"d"}]},"mark":{"type":"text","align":"center","baseline":"middle","fontSize":27,"fontWeight":"bold"},
   "encoding":{"x":{"field":"x","type":"quantitative"},"y":{"field":"y","type":"quantitative"},"text":{"field":"t"}}},
  {"data":{"name":"ptsD"},"mark":{"type":"circle","size":120,"fill":"#3F9A40","stroke":"#173d17","strokeWidth":0.8,"opacity":1},
   "encoding":{"x":{"field":"x","type":"quantitative"},"y":{"field":"y","type":"quantitative"}}},
  {"data":{"values":[{"x":56.66,"x2":67.04,"y":1.331,"y2":1.484}]},"mark":{"type":"rect","fill":"white","stroke":"#222","strokeWidth":2},
   "encoding":{"x":{"field":"x","type":"quantitative"},"x2":{"field":"x2"},"y":{"field":"y","type":"quantitative"},"y2":{"field":"y2"}}},
  {"data":{"values":[{"x":61.85,"y":1.441,"t":"Two-Mica Leucogranites"},{"x":61.85,"y":1.374,"t":"Felsic S-types"},{"x":78.62,"y":1.14,"t":"S"},{"x":78.62,"y":1.069,"t":"I"}]},"mark":{"type":"text","align":"center","baseline":"middle","fontSize":25},
   "encoding":{"x":{"field":"x","type":"quantitative"},"y":{"field":"y","type":"quantitative"},"text":{"field":"t"}}},
  {"data":{"name":"xtMinor"},"mark":{"type":"rule","color":"black","strokeWidth":3},
   "encoding":{"x":{"field":"v","type":"quantitative"},"y":{"datum":1.608,"type":"quantitative"},"y2":{"datum":1.5856}}},
  {"data":{"name":"xtMajor"},"mark":{"type":"rule","color":"black","strokeWidth":3},
   "encoding":{"x":{"field":"v","type":"quantitative"},"y":{"datum":1.608,"type":"quantitative"},"y2":{"datum":1.5575}}},
  {"data":{"name":"xtMinor"},"mark":{"type":"rule","color":"black","strokeWidth":3},
   "encoding":{"x":{"field":"v","type":"quantitative"},"y":{"datum":0.9,"type":"quantitative"},"y2":{"datum":0.9224}}},
  {"data":{"name":"xtMajor"},"mark":{"type":"rule","color":"black","strokeWidth":3},
   "encoding":{"x":{"field":"v","type":"quantitative"},"y":{"datum":0.9,"type":"quantitative"},"y2":{"datum":0.9505}}},
  {"data":{"name":"yt4"},"mark":{"type":"rule","color":"black","strokeWidth":3},
   "encoding":{"y":{"field":"v","type":"quantitative"},"x":{"datum":55,"type":"quantitative"},"x2":{"datum":55.388}}},
  {"data":{"name":"yt4"},"mark":{"type":"rule","color":"black","strokeWidth":3},
   "encoding":{"y":{"field":"v","type":"quantitative"},"x":{"datum":79.612,"type":"quantitative"},"x2":{"datum":80}}}
 ]
}
]
}
